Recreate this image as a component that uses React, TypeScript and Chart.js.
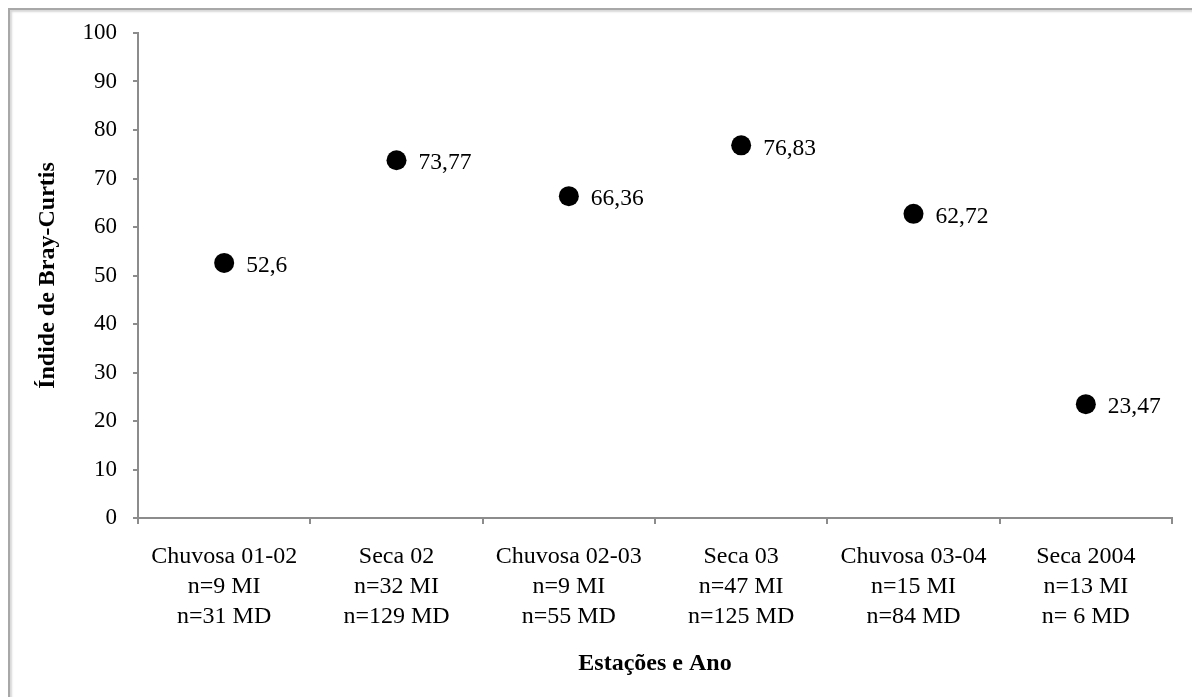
import React, { useEffect, useRef } from "react";
import { Chart, registerables } from "chart.js";

Chart.register(...registerables);

const categories: string[][] = [
  ["Chuvosa 01-02", "n=9 MI", "n=31 MD"],
  ["Seca 02", "n=32 MI", "n=129 MD"],
  ["Chuvosa 02-03", "n=9 MI", "n=55 MD"],
  ["Seca 03", "n=47 MI", "n=125 MD"],
  ["Chuvosa 03-04", "n=15 MI", "n=84 MD"],
  ["Seca 2004", "n=13 MI", "n= 6 MD"],
];
const values: number[] = [52.6, 73.77, 66.36, 76.83, 62.72, 23.47];
const yTitle = "Índide de Bray-Curtis";
const xTitle = "Estações e Ano";

const FONT = "'Liberation Serif', 'Times New Roman', serif";
const AXIS = "#8c8c8c";

const labelPlugin = {
  id: "pointLabels",
  afterDatasetsDraw(chart: any) {
    const ctx = chart.ctx;
    const meta = chart.getDatasetMeta(0);
    ctx.save();
    ctx.font = `23.5px ${FONT}`;
    ctx.fillStyle = "#000";
    ctx.textAlign = "left";
    ctx.textBaseline = "middle";
    meta.data.forEach((pt: any, i: number) => {
      const txt = String(values[i]).replace(".", ",");
      ctx.fillText(txt, pt.x + 22, pt.y + 3);
    });
    ctx.restore();
  },
};

export default function App() {
  const ref = useRef<HTMLCanvasElement | null>(null);
  useEffect(() => {
    if (!ref.current) return;
    const chart = new Chart(ref.current, {
      type: "line",
      data: {
        labels: categories,
        datasets: [
          {
            data: values,
            showLine: false,
            pointRadius: 10,
            pointHoverRadius: 10,
            pointBackgroundColor: "#000",
            pointBorderColor: "#000",
            pointBorderWidth: 0,
          },
        ],
      },
      options: {
        animation: false,
        responsive: false,
        maintainAspectRatio: false,
        layout: { padding: { left: 0, right: 12, top: 23, bottom: 0 } },
        plugins: {
          legend: { display: false },
          tooltip: { enabled: false },
        },
        scales: {
          x: {
            type: "category",
            offset: true,
            grid: {
              display: true,
              offset: true,
              drawOnChartArea: false,
              drawTicks: true,
              tickLength: 6,
              color: AXIS,
              lineWidth: 2,
            },
            border: { display: true, color: AXIS, width: 2 },
            ticks: {
              color: "#000",
              font: { family: FONT, size: 24, lineHeight: 1.25 },
              padding: 18,
              maxRotation: 0,
              autoSkip: false,
            },
            title: {
              display: true,
              text: xTitle,
              color: "#000",
              font: { family: FONT, size: 24, weight: "bold", lineHeight: 1.2 },
              padding: { top: 0, bottom: 11 },
            },
            afterFit(scale: any) {
              scale.height = 171;
            },
          },
          y: {
            min: 0,
            max: 100,
            ticks: {
              stepSize: 10,
              color: "#000",
              font: { family: FONT, size: 23 },
              padding: 16,
            },
            grid: {
              display: true,
              drawOnChartArea: false,
              drawTicks: true,
              tickLength: 5,
              color: AXIS,
              lineWidth: 2,
            },
            border: { display: true, color: AXIS, width: 2 },
            title: {
              display: true,
              text: yTitle,
              color: "#000",
              font: { family: FONT, size: 24, weight: "bold", lineHeight: 1.2 },
              padding: { top: 23, bottom: 0 },
            },
            afterFit(scale: any) {
              scale.width = 128;
              scale.paddingTop = 10;
              scale.paddingBottom = 10;
            },
          },
        },
      },
      plugins: [labelPlugin],
    });
    return () => chart.destroy();
  }, []);

  return (
    <div
      style={{
        position: "fixed",
        left: 8,
        top: 8,
        width: 1200,
        height: 700,
        boxSizing: "border-box",
        borderLeft: "2px solid #a8a8a8",
        borderTop: "2px solid #a8a8a8",
        boxShadow: "inset 2px 2px 2px #d8d8d8",
        background: "#fff",
      }}
    >
      <canvas ref={ref} width={1174} height={679} style={{ display: "block", width: 1174, height: 679 }} />
    </div>
  );
}
